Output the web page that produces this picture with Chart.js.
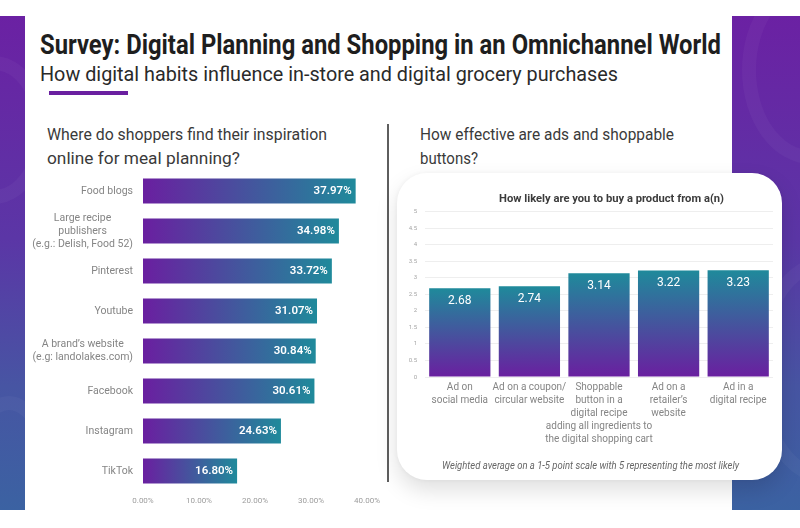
<!DOCTYPE html>
<html><head><meta charset="utf-8">
<script src="https://cdn.jsdelivr.net/npm/chart.js@4.4.1/dist/chart.umd.min.js"></script>
<style>
html,body{margin:0;padding:0;width:800px;height:528px;overflow:hidden;background:#fff;font-family:Roboto,"DejaVu Sans",sans-serif;}
.abs{position:absolute;}
.panel{position:absolute;top:16px;height:494px;background:linear-gradient(180deg,#6b21a3 0%,#5b36a6 45%,#4755a3 75%,#3b62a2 100%);overflow:hidden;}
.panel .shape{position:absolute;border-radius:50%;border:14px solid rgba(255,255,255,0.035);}
.fit{white-space:nowrap;display:inline-block;transform-origin:0 50%;}
#title{left:40px;top:32px;font-size:27px;line-height:27px;font-weight:700;color:#1e1e1e;}
#subtitle{left:40px;top:64px;font-size:20px;line-height:20px;color:#2a2a2a;}
#uline{left:49px;top:91px;width:79px;height:4px;background:#6a1fa0;}
.head{font-size:17px;line-height:24px;color:#3a3a3a;}
#divider{left:387px;top:124px;width:2px;height:358px;background:#5e5e5e;}
#card{left:397px;top:173px;width:385px;height:307px;background:#fff;border-radius:30px;box-shadow:0 10px 22px rgba(0,0,0,0.13),0 0 6px rgba(0,0,0,0.05);}
#ctitle{left:499px;top:191px;font-size:11.5px;line-height:14px;font-weight:700;color:#3c3c3c;}
#foot{left:442px;top:459px;font-size:10px;line-height:13px;font-style:italic;color:#666;}
</style></head>
<body>
<div class="panel" style="left:0;width:25px;"><div class="shape" style="left:-40px;top:380px;width:70px;height:160px;"></div><div class="shape" style="left:-60px;top:40px;width:80px;height:120px;"></div></div>
<div class="panel" style="left:732px;width:68px;"><div class="shape" style="left:10px;top:-40px;width:110px;height:160px;"></div><div class="shape" style="left:20px;top:240px;width:120px;height:200px;"></div></div>

<div id="title" class="abs"><span class="fit" data-w="681">Survey: Digital Planning and Shopping in an Omnichannel World</span></div>
<div id="subtitle" class="abs"><span class="fit" data-w="578">How digital habits influence in-store and digital grocery purchases</span></div>
<div id="uline" class="abs"></div>

<div class="abs head" style="left:47px;top:122px;"><span class="fit" data-w="280">Where do shoppers find their inspiration</span><br><span class="fit" data-w="193">online for meal planning?</span></div>
<div class="abs head" style="left:420px;top:122px;"><span class="fit" data-w="254">How effective are ads and shoppable</span><br><span class="fit" data-w="58">buttons?</span></div>
<div id="divider" class="abs"></div>

<div class="abs" style="left:30px;top:165px;width:355px;height:345px;"><canvas id="left" width="355" height="345"></canvas></div>

<div id="card" class="abs"></div>
<div id="ctitle" class="abs"><span class="fit" data-w="225">How likely are you to buy a product from a(n)</span></div>
<div class="abs" style="left:400px;top:200px;width:380px;height:250px;"><canvas id="right" width="380" height="250"></canvas></div>
<div id="foot" class="abs"><span class="fit" data-w="297">Weighted average on a 1-5 point scale with 5 representing the most likely</span></div>

<script>
// ---- data ----
const leftCategories = [
  ["Food blogs"],
  ["Large recipe", "publishers", "(e.g.: Delish, Food 52)"],
  ["Pinterest"],
  ["Youtube"],
  ["A brand\u2019s website", "(e.g: landolakes.com)"],
  ["Facebook"],
  ["Instagram"],
  ["TikTok"]
];
const leftValues = [37.97, 34.98, 33.72, 31.07, 30.84, 30.61, 24.63, 16.80];
const leftTicks = [0, 10, 20, 30, 40];

const rightCategories = [
  ["Ad on", "social media"],
  ["Ad on a coupon/", "circular website"],
  ["Shoppable", "button in a", "digital recipe", "adding all ingredients to", "the digital shopping cart"],
  ["Ad on a", "retailer\u2019s", "website"],
  ["Ad in a", "digital recipe"]
];
const rightValues = [2.68, 2.74, 3.14, 3.22, 3.23];
const rightTicks = [0, 0.5, 1, 1.5, 2, 2.5, 3, 3.5, 4, 4.5, 5];

// ---- fit text widths ----
document.querySelectorAll('.fit').forEach(el => {
  const w = +el.dataset.w; const a = el.getBoundingClientRect().width;
  if (a > 0) el.style.transform = 'scaleX(' + (w / a) + ')';
});

const PURPLE = '#6a1fa0', TEAL = '#1f8a9b';

function hGrad(c) {
  const ch = c.chart;
  if (!ch.chartArea || c.type !== 'data') return PURPLE;
  const xs = ch.scales.x;
  const x0 = xs.getPixelForValue(0), x1 = xs.getPixelForValue(c.raw);
  const g = ch.ctx.createLinearGradient(x0, 0, x1, 0);
  g.addColorStop(0, PURPLE); g.addColorStop(1, TEAL);
  return g;
}
function vGrad(c) {
  const ch = c.chart;
  if (!ch.chartArea || c.type !== 'data') return PURPLE;
  const ys = ch.scales.y;
  const y0 = ys.getPixelForValue(0), y1 = ys.getPixelForValue(c.raw);
  const g = ch.ctx.createLinearGradient(0, y1, 0, y0);
  g.addColorStop(0, TEAL); g.addColorStop(1, PURPLE);
  return g;
}

const valueLabels = {
  id: 'valueLabels',
  afterDatasetsDraw(chart, args, opts) {
    const ctx = chart.ctx; const meta = chart.getDatasetMeta(0);
    ctx.save(); ctx.fillStyle = '#fff'; ctx.font = opts.font; ctx.textBaseline = 'middle';
    meta.data.forEach((el, i) => {
      const v = chart.data.datasets[0].data[i];
      if (opts.horizontal) { ctx.textAlign = 'right'; ctx.fillText(v.toFixed(2) + '%', el.x - 4, el.y + 0.5); }
      else { ctx.textAlign = 'center'; ctx.fillText(v.toFixed(2), el.x, el.y + 13); }
    });
    ctx.restore();
  }
};

// centered multi-line category labels, block right-aligned to the axis
const catLabels = {
  id: 'catLabels',
  afterDraw(chart) {
    const ctx = chart.ctx; const ys = chart.scales.y;
    ctx.save(); ctx.font = '10.5px Roboto, sans-serif'; ctx.fillStyle = '#858585'; ctx.textBaseline = 'middle'; ctx.textAlign = 'center';
    const right = chart.chartArea.left - 10; const lh = 13;
    chart.data.labels.forEach((lines, i) => {
      const y = ys.getPixelForTick(i);
      const widest = Math.max(...lines.map(t => ctx.measureText(t).width));
      const cx = right - widest / 2;
      lines.forEach((t, k) => ctx.fillText(t, cx, y + (k - (lines.length - 1) / 2) * lh));
    });
    ctx.restore();
  }
};

new Chart(document.getElementById('left'), {
  type: 'bar',
  data: { labels: leftCategories, datasets: [{ data: leftValues, backgroundColor: hGrad, barPercentage: 0.625, categoryPercentage: 1 }] },
  options: {
    indexAxis: 'y', responsive: false, animation: false, events: [],
    layout: { padding: { top: 6, right: 14, left: 0, bottom: 0 } },
    plugins: { legend: { display: false }, tooltip: { enabled: false }, valueLabels: { horizontal: true, font: '600 11.5px Roboto, sans-serif' } },
    scales: {
      x: { min: leftTicks[0], max: leftTicks[leftTicks.length - 1],
           afterBuildTicks: s => { s.ticks = leftTicks.map(v => ({ value: v })); },
           ticks: { callback: v => Number(v).toFixed(2) + '%', font: { size: 8, family: 'Roboto' }, color: '#9c9c9c', padding: 5, maxRotation: 0 },
           grid: { display: false, drawTicks: false }, border: { display: false }, afterFit: s => { s.height = 19; } },
      y: { ticks: { display: false }, grid: { display: false, drawTicks: false }, border: { display: false }, afterFit: s => { s.width = 113; } }
    }
  },
  plugins: [valueLabels, catLabels]
});

new Chart(document.getElementById('right'), {
  type: 'bar',
  data: { labels: rightCategories, datasets: [{ data: rightValues, backgroundColor: vGrad, barPercentage: 0.88, categoryPercentage: 1 }] },
  options: {
    responsive: false, animation: false, events: [],
    layout: { padding: { top: 8, right: 7, left: 0, bottom: 0 } },
    plugins: { legend: { display: false }, tooltip: { enabled: false }, valueLabels: { horizontal: false, font: '12px Roboto, sans-serif' } },
    scales: {
      x: { ticks: { font: { size: 10, family: 'Roboto', lineHeight: 1.3 }, color: '#858585', padding: 4, maxRotation: 0, autoSkip: false },
           grid: { display: false, drawTicks: false }, border: { display: false }, afterFit: s => { s.height = 73; } },
      y: { min: 0, max: 5,
           afterBuildTicks: s => { s.ticks = rightTicks.map(v => ({ value: v })); },
           ticks: { callback: v => String(v), font: { size: 6, family: 'Roboto' }, color: '#a5a5a5', padding: 8 },
           grid: { color: '#eeeeee', drawTicks: false }, border: { display: false }, afterFit: s => { s.width = 25; } }
    }
  },
  plugins: [valueLabels]
});
</script>
</body></html>
